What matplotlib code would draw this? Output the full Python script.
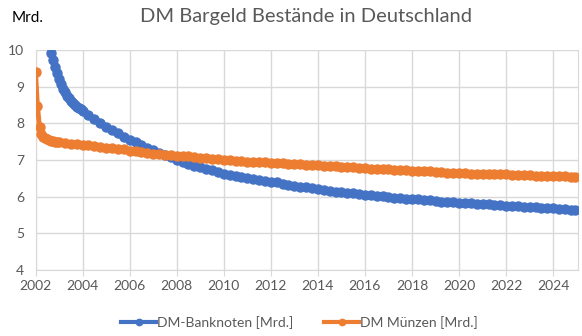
import numpy as np
import matplotlib
matplotlib.use("Agg")
import matplotlib.pyplot as plt

plt.rcParams['font.family'] = ['Lato', 'DejaVu Sans']

# Banknoten: monatlich bis Ende 2003, danach quartalsweise
noten_jahr = [2002.67, 2002.75, 2002.83, 2002.92, 2003.0, 2003.08, 2003.17, 2003.25,
              2003.33, 2003.42, 2003.5, 2003.58, 2003.67, 2003.75, 2003.83, 2003.92] + \
             list(np.arange(2004.0, 2024.9, 0.25)) + [2024.92]
noten_wert = [9.91, 9.72, 9.55, 9.38, 9.22, 9.07, 8.95, 8.85,
              8.76, 8.68, 8.61, 8.55, 8.50, 8.46, 8.42, 8.38,
              8.35, 8.23, 8.11, 8.00, 7.91, 7.82, 7.73, 7.64,
              7.56, 7.48, 7.41, 7.34, 7.27, 7.20, 7.14, 7.08,
              7.00, 6.95, 6.90, 6.85, 6.80, 6.76, 6.72, 6.68,
              6.63, 6.60, 6.57, 6.54, 6.51, 6.49, 6.46, 6.44,
              6.41, 6.39, 6.36, 6.33, 6.30, 6.28, 6.26, 6.23,
              6.20, 6.18, 6.16, 6.14, 6.12, 6.10, 6.09, 6.07,
              6.05, 6.04, 6.02, 6.01, 5.99, 5.98, 5.97, 5.95,
              5.94, 5.93, 5.91, 5.90, 5.89, 5.87, 5.86, 5.85,
              5.84, 5.83, 5.82, 5.81, 5.80, 5.79, 5.78, 5.77,
              5.76, 5.75, 5.74, 5.73, 5.72, 5.71, 5.70, 5.69,
              5.69, 5.68, 5.66, 5.65, 5.64]

# Münzen: monatlich 2002, danach quartalsweise
muenz_jahr = [2002.0, 2002.08, 2002.17, 2002.25, 2002.33, 2002.42, 2002.5, 2002.58,
              2002.67, 2002.75, 2002.83, 2002.92] + \
             list(np.arange(2003.0, 2024.9, 0.25)) + [2024.92]
muenz_wert = [9.41, 8.48, 7.91, 7.70, 7.63, 7.60, 7.57, 7.55,
              7.53, 7.52, 7.50, 7.49,
              7.48, 7.46, 7.45, 7.43, 7.41, 7.40, 7.38, 7.36,
              7.34, 7.33, 7.31, 7.29, 7.26, 7.24, 7.22, 7.20,
              7.18, 7.17, 7.15, 7.14, 7.12, 7.11, 7.10, 7.08,
              7.07, 7.05, 7.04, 7.02, 7.00, 6.99, 6.98, 6.97,
              6.96, 6.95, 6.95, 6.94, 6.93, 6.92, 6.91, 6.90,
              6.90, 6.89, 6.88, 6.87, 6.86, 6.85, 6.84, 6.83,
              6.82, 6.81, 6.80, 6.79, 6.78, 6.77, 6.76, 6.75,
              6.75, 6.74, 6.73, 6.72, 6.71, 6.70, 6.70, 6.69,
              6.68, 6.67, 6.66, 6.65, 6.64, 6.64, 6.63, 6.63,
              6.62, 6.62, 6.61, 6.61, 6.61, 6.60, 6.60, 6.59,
              6.59, 6.58, 6.58, 6.57, 6.57, 6.56, 6.56, 6.55,
              6.55]

x_ticks = list(range(2002, 2025, 2))
y_ticks = [4, 5, 6, 7, 8, 9, 10]

grau = '#595959'
gitter = '#D9D9D9'

fig = plt.figure(figsize=(5.82, 3.36), dpi=100)
ax = fig.add_axes([0.061, 0.196, 0.932, 0.655])

ax.plot(noten_jahr, noten_wert, color='#4472C4', lw=3.5, marker='o', ms=6.5,
        label='DM-Banknoten [Mrd.]', zorder=3)
ax.plot(muenz_jahr, muenz_wert, color='#ED7D31', lw=3.5, marker='o', ms=6.5,
        label='DM Münzen [Mrd.]', zorder=3)

ax.set_xlim(2002, 2025.05)
ax.set_ylim(4, 10)
ax.set_xticks(x_ticks)
ax.set_yticks(y_ticks)
ax.grid(True, color=gitter, lw=1)
ax.set_axisbelow(True)
for s in ['left', 'bottom', 'right']:
    ax.spines[s].set_color(gitter)
ax.spines['top'].set_visible(False)
ax.tick_params(axis='x', colors=grau, labelsize=10, length=4, color=gitter, pad=3)
ax.tick_params(axis='y', colors=grau, labelsize=10, length=0, pad=8)

fig.text(0.525, 0.95, 'DM Bargeld Bestände in Deutschland', ha='center', va='center',
         fontsize=14.5, color=grau)
fig.text(0.02, 0.945, 'Mrd.', ha='left', va='center', fontsize=11, color='black')

leg = fig.legend(loc='center', bbox_to_anchor=(0.515, 0.04), ncol=2, frameon=False,
                 fontsize=10, markerscale=0.7, handlelength=2.5, columnspacing=2.2,
                 handletextpad=0.1)
for line in leg.get_lines():
    line.set_linewidth(3)
for t in leg.get_texts():
    t.set_color(grau)

fig.savefig('out.png', dpi=100)
